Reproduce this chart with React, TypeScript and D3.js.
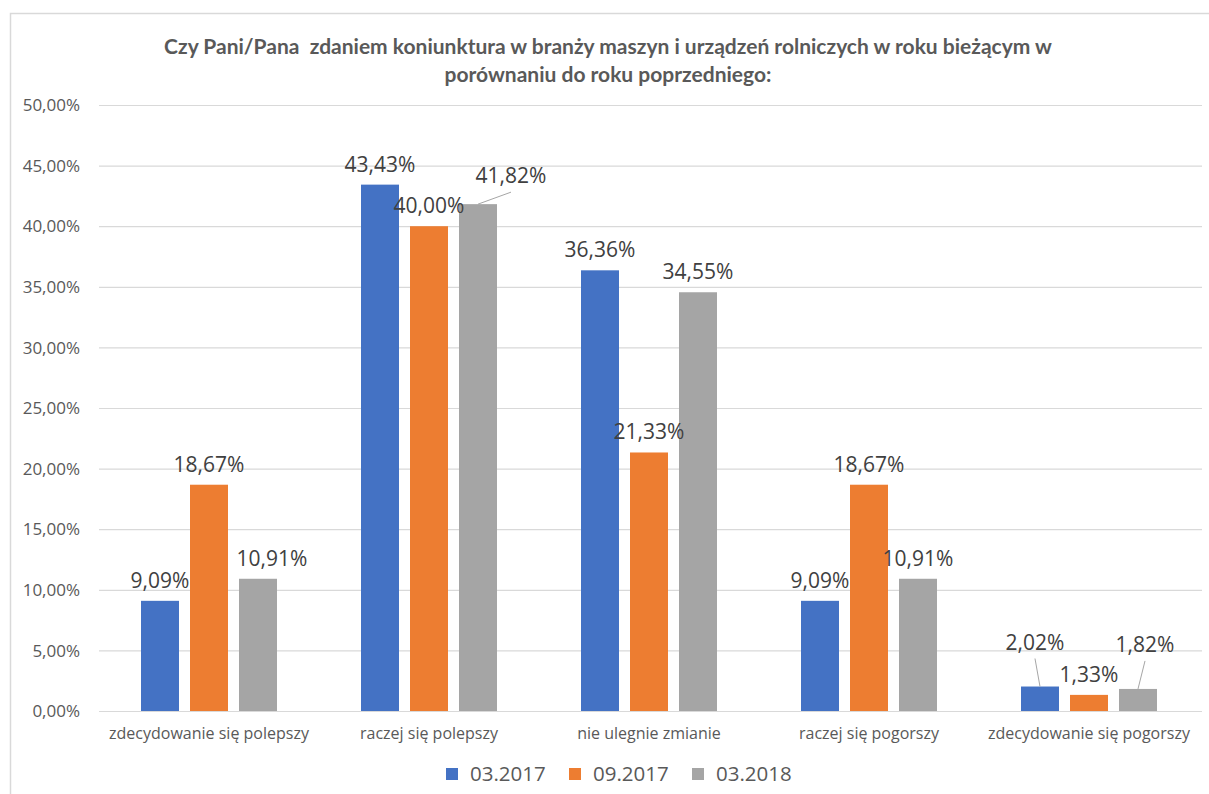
import { useEffect, useRef } from 'react'
import * as d3 from 'd3'

const categories = [
  'zdecydowanie się polepszy',
  'raczej się polepszy',
  'nie ulegnie zmianie',
  'raczej się pogorszy',
  'zdecydowanie się pogorszy',
]
const seriesNames = ['03.2017', '09.2017', '03.2018']
const values2017a = [9.09, 43.43, 36.36, 9.09, 2.02]
const values2017b = [18.67, 40.0, 21.33, 18.67, 1.33]
const values2018a = [10.91, 41.82, 34.55, 10.91, 1.82]
const yTicks = [0, 5, 10, 15, 20, 25, 30, 35, 40, 45, 50]
const colors = ['#4472C4', '#ED7D31', '#A5A5A5']

// label nudges Excel made by hand: [category, series, dx, dy, leader]
const labelNudges: [number, number, number, number, boolean][] = [
  [0, 2, 14, 0, false],
  [1, 2, 33, -8, true],
  [4, 0, -5, -24, true],
  [4, 2, 7, -24, true],
]

const W = 1209
const H = 794
const FONT = '"Open Sans", "Segoe UI", sans-serif'
const TEXT = '#595959'

const fmt = (v: number) => v.toFixed(2).replace('.', ',') + '%'

export default function App() {
  const ref = useRef<SVGSVGElement | null>(null)

  useEffect(() => {
    if (!ref.current) return
    const svg = d3.select(ref.current)
    svg.selectAll('*').remove()

    const allValues = [values2017a, values2017b, values2018a]

    const x0 = d3.scaleBand<string>().domain(categories).range([99, 1199])
    const groupW = 136
    const x1 = d3
      .scaleBand<string>()
      .domain(seriesNames)
      .range([(x0.bandwidth() - groupW) / 2, (x0.bandwidth() + groupW) / 2])
      .paddingInner(0.2245)
    const y = d3.scaleLinear().domain([0, 50]).range([711, 105])

    // chart frame
    svg
      .append('path')
      .attr('d', `M10.5,${H} V13.5 H${W}`)
      .attr('fill', 'none')
      .attr('stroke', '#D9D9D9')
      .attr('stroke-width', 1.5)

    // title
    const title = svg
      .append('text')
      .attr('text-anchor', 'middle')
      .attr('font-family', '"Lato", "Open Sans", sans-serif')
      .attr('font-weight', 'bold')
      .attr('font-size', 21)
      .attr('fill', TEXT)
      .style('white-space', 'pre')
    title.append('tspan').attr('x', 608).attr('y', 54).text('Czy Pani/Pana  zdaniem koniunktura w branży maszyn i urządzeń rolniczych w roku bieżącym w')
    title.append('tspan').attr('x', 608).attr('y', 82).text('porównaniu do roku poprzedniego:')

    // grid + y labels
    const grid = svg.append('g')
    grid
      .selectAll('line')
      .data(yTicks)
      .join('line')
      .attr('x1', 99)
      .attr('x2', 1202)
      .attr('y1', (d) => y(d) + 0.5)
      .attr('y2', (d) => y(d) + 0.5)
      .attr('stroke', '#D9D9D9')
      .attr('stroke-width', 1.2)
    grid
      .selectAll('text')
      .data(yTicks)
      .join('text')
      .attr('x', 80)
      .attr('y', (d) => y(d))
      .attr('dy', '0.36em')
      .attr('text-anchor', 'end')
      .attr('font-family', FONT)
      .attr('font-size', 17)
      .attr('fill', TEXT)
      .text((d) => fmt(d))

    // bars
    const groups = svg
      .append('g')
      .selectAll('g')
      .data(categories)
      .join('g')
      .attr('transform', (d) => `translate(${x0(d)},0)`)

    groups
      .selectAll('rect')
      .data((_, ci) => seriesNames.map((s, si) => ({ s, si, ci, v: allValues[si][ci] })))
      .join('rect')
      .attr('x', (d) => x1(d.s)!)
      .attr('width', x1.bandwidth())
      .attr('y', (d) => y(d.v))
      .attr('height', (d) => y(0) - y(d.v))
      .attr('fill', (d) => colors[d.si])

    // data labels
    const labels = svg.append('g')
    categories.forEach((c, ci) => {
      seriesNames.forEach((s, si) => {
        const v = allValues[si][ci]
        const cx = x0(c)! + x1(s)! + x1.bandwidth() / 2
        const top = y(v)
        const nudge = labelNudges.find((n) => n[0] === ci && n[1] === si)
        const dx = nudge ? nudge[2] : 0
        const dy = nudge ? nudge[3] : 0
        const lx = cx + dx
        const ly = top - 13 + dy
        if (nudge && nudge[4]) {
          labels
            .append('line')
            .attr('x1', cx)
            .attr('y1', top)
            .attr('x2', lx)
            .attr('y2', ly + 9)
            .attr('stroke', '#A6A6A6')
            .attr('stroke-width', 1)
        }
        labels
          .append('text')
          .attr('x', lx)
          .attr('y', ly)
          .attr('text-anchor', 'middle')
          .attr('font-family', FONT)
          .attr('font-size', 21)
          .attr('fill', '#404040')
          .text(fmt(v))
      })
    })

    // category labels
    svg
      .append('g')
      .selectAll('text')
      .data(categories)
      .join('text')
      .attr('x', (d) => x0(d)! + x0.bandwidth() / 2)
      .attr('y', 739)
      .attr('text-anchor', 'middle')
      .attr('font-family', FONT)
      .attr('font-size', 16)
      .attr('fill', TEXT)
      .text((d) => d)

    // legend
    const legend = svg
      .append('g')
      .selectAll('g')
      .data(seriesNames)
      .join('g')
      .attr('transform', (_, i) => `translate(${446 + i * 123},774)`)
    legend
      .append('rect')
      .attr('x', 0)
      .attr('y', -6)
      .attr('width', 12)
      .attr('height', 12)
      .attr('fill', (_, i) => colors[i])
    legend
      .append('text')
      .attr('x', 24)
      .attr('dy', '0.36em')
      .attr('font-family', FONT)
      .attr('font-size', 20.5)
      .attr('fill', TEXT)
      .text((d) => d)
  }, [])

  return (
    <svg
      ref={ref}
      width={W}
      height={H}
      style={{ position: 'absolute', left: 0, top: 0, background: '#fff' }}
    />
  )
}
